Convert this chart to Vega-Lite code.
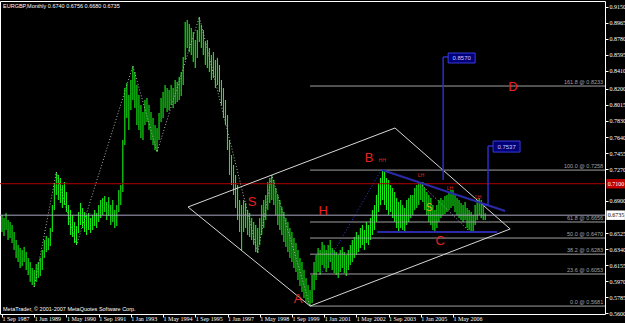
{
"$schema":"https://vega.github.io/schema/vega-lite/v6.json",
"width":605,"height":313,"autosize":{"type":"none"},
"padding":{"left":0,"top":1,"right":20,"bottom":9},
"background":"#000000",
"config":{"view":{"stroke":"#ffffff","strokeWidth":1},"font":"Liberation Sans","text":{"font":"Liberation Sans"},
 "axis":{"labelOverlap":false,"labelFlush":false,"labelSeparation":0,"grid":false,"domain":false,"tickColor":"#ffffff","labelColor":"#ffffff","labelFont":"Liberation Sans Narrow","labelFontSize":6,"tickSize":3,"labelPadding":1,"labelBaseline":"middle","labelAlign":"left","labelBound":false,"title":null}},
"resolve":{"scale":{"color":"independent","fill":"independent","strokeWidth":"independent"}},
"datasets":{
"bars":[
{"i":0,"h":0.6737,"l":0.6540},{"i":1,"h":0.6702,"l":0.6493},{"i":2,"h":0.6760,"l":0.6563},{"i":3,"h":0.6679,"l":0.6447},{"i":4,"h":0.6656,"l":0.6470},{"i":5,"h":0.6621,"l":0.6412},{"i":6,"h":0.6540,"l":0.6331},{"i":7,"h":0.6447,"l":0.6238},{"i":8,"h":0.6389,"l":0.6192},{"i":9,"h":0.6354,"l":0.6122},
{"i":10,"h":0.6331,"l":0.6145},{"i":11,"h":0.6366,"l":0.6192},{"i":12,"h":0.6308,"l":0.6099},{"i":13,"h":0.6238,"l":0.6041},{"i":14,"h":0.6192,"l":0.5960},{"i":15,"h":0.6122,"l":0.5925},{"i":16,"h":0.6099,"l":0.5902},{"i":17,"h":0.6169,"l":0.5960},{"i":18,"h":0.6192,"l":0.6006},{"i":19,"h":0.6238,"l":0.6029},
{"i":20,"h":0.6331,"l":0.6099},{"i":21,"h":0.6447,"l":0.6238},{"i":22,"h":0.6493,"l":0.6308},{"i":23,"h":0.6470,"l":0.6331},{"i":24,"h":0.6586,"l":0.6377},{"i":25,"h":0.6853,"l":0.6540},{"i":26,"h":0.7108,"l":0.6795},{"i":27,"h":0.7236,"l":0.6969},{"i":28,"h":0.7201,"l":0.6911},{"i":29,"h":0.7166,"l":0.6876},
{"i":30,"h":0.7085,"l":0.6818},{"i":31,"h":0.7120,"l":0.6853},{"i":32,"h":0.7004,"l":0.6772},{"i":33,"h":0.6853,"l":0.6621},{"i":34,"h":0.6795,"l":0.6505},{"i":35,"h":0.6737,"l":0.6482},{"i":36,"h":0.6656,"l":0.6412},{"i":37,"h":0.6609,"l":0.6389},{"i":38,"h":0.6772,"l":0.6528},{"i":39,"h":0.6876,"l":0.6621},
{"i":40,"h":0.6818,"l":0.6586},{"i":41,"h":0.6772,"l":0.6540},{"i":42,"h":0.6737,"l":0.6505},{"i":43,"h":0.6760,"l":0.6563},{"i":44,"h":0.6702,"l":0.6528},{"i":45,"h":0.6737,"l":0.6563},{"i":46,"h":0.6795,"l":0.6609},{"i":47,"h":0.6760,"l":0.6586},{"i":48,"h":0.6853,"l":0.6656},{"i":49,"h":0.6911,"l":0.6702},
{"i":50,"h":0.6934,"l":0.6737},{"i":51,"h":0.6957,"l":0.6772},{"i":52,"h":0.6888,"l":0.6679},{"i":53,"h":0.6946,"l":0.6725},{"i":54,"h":0.6853,"l":0.6621},{"i":55,"h":0.6911,"l":0.6656},{"i":56,"h":0.6795,"l":0.6586},{"i":57,"h":0.6853,"l":0.6609},{"i":58,"h":0.7027,"l":0.6772},{"i":59,"h":0.7085,"l":0.6853},
{"i":60,"h":0.7607,"l":0.7004},{"i":61,"h":0.8210,"l":0.7549},{"i":62,"h":0.8268,"l":0.7862},{"i":63,"h":0.8129,"l":0.7723},{"i":64,"h":0.8303,"l":0.7955},{"i":65,"h":0.8465,"l":0.8071},{"i":66,"h":0.8396,"l":0.7978},{"i":67,"h":0.8245,"l":0.7781},{"i":68,"h":0.8129,"l":0.7723},{"i":69,"h":0.8013,"l":0.7630},
{"i":70,"h":0.7932,"l":0.7607},{"i":71,"h":0.8071,"l":0.7781},{"i":72,"h":0.8094,"l":0.7816},{"i":73,"h":0.8013,"l":0.7723},{"i":74,"h":0.7932,"l":0.7607},{"i":75,"h":0.7862,"l":0.7549},{"i":76,"h":0.7781,"l":0.7491},{"i":77,"h":0.7746,"l":0.7468},{"i":78,"h":0.7920,"l":0.7607},{"i":79,"h":0.8094,"l":0.7816},
{"i":80,"h":0.8164,"l":0.7862},{"i":81,"h":0.8245,"l":0.7978},{"i":82,"h":0.8210,"l":0.7932},{"i":83,"h":0.8187,"l":0.7955},{"i":84,"h":0.8245,"l":0.8013},{"i":85,"h":0.8210,"l":0.7978},{"i":86,"h":0.8303,"l":0.8025},{"i":87,"h":0.8280,"l":0.8048},{"i":88,"h":0.8338,"l":0.8071},{"i":89,"h":0.8396,"l":0.8117},
{"i":90,"h":0.8570,"l":0.8245},{"i":91,"h":0.8976,"l":0.8535},{"i":92,"h":0.8999,"l":0.8674},{"i":93,"h":0.8953,"l":0.8628},{"i":94,"h":0.8906,"l":0.8593},{"i":95,"h":0.8860,"l":0.8512},{"i":96,"h":0.8767,"l":0.8442},{"i":97,"h":0.8883,"l":0.8558},{"i":98,"h":0.9034,"l":0.8744},{"i":99,"h":0.8941,"l":0.8674},
{"i":100,"h":0.8883,"l":0.8593},{"i":101,"h":0.8744,"l":0.8477},{"i":102,"h":0.8767,"l":0.8442},{"i":103,"h":0.8674,"l":0.8396},{"i":104,"h":0.8593,"l":0.8303},{"i":105,"h":0.8628,"l":0.8326},{"i":106,"h":0.8535,"l":0.8210},{"i":107,"h":0.8558,"l":0.8245},{"i":108,"h":0.8477,"l":0.8164},{"i":109,"h":0.8303,"l":0.8013},
{"i":110,"h":0.8210,"l":0.7862},{"i":111,"h":0.8071,"l":0.7781},{"i":112,"h":0.7897,"l":0.7491},{"i":113,"h":0.7607,"l":0.7201},{"i":114,"h":0.7433,"l":0.7085},{"i":115,"h":0.7317,"l":0.6969},{"i":116,"h":0.7201,"l":0.6818},{"i":117,"h":0.7085,"l":0.6679},{"i":118,"h":0.6911,"l":0.6540},{"i":119,"h":0.6853,"l":0.6331},
{"i":120,"h":0.6911,"l":0.6540},{"i":121,"h":0.6876,"l":0.6586},{"i":122,"h":0.6795,"l":0.6505},{"i":123,"h":0.6760,"l":0.6482},{"i":124,"h":0.6702,"l":0.6447},{"i":125,"h":0.6656,"l":0.6389},{"i":126,"h":0.6621,"l":0.6308},{"i":127,"h":0.6586,"l":0.6296},{"i":128,"h":0.6702,"l":0.6389},{"i":129,"h":0.6853,"l":0.6505},
{"i":130,"h":0.6911,"l":0.6586},{"i":131,"h":0.6969,"l":0.6679},{"i":132,"h":0.7120,"l":0.6795},{"i":133,"h":0.7166,"l":0.6876},{"i":134,"h":0.7201,"l":0.6911},{"i":135,"h":0.7143,"l":0.6853},{"i":136,"h":0.7050,"l":0.6737},{"i":137,"h":0.6969,"l":0.6621},{"i":138,"h":0.6911,"l":0.6563},{"i":139,"h":0.6830,"l":0.6505},
{"i":140,"h":0.6772,"l":0.6424},{"i":141,"h":0.6702,"l":0.6366},{"i":142,"h":0.6656,"l":0.6308},{"i":143,"h":0.6586,"l":0.6238},{"i":144,"h":0.6540,"l":0.6192},{"i":145,"h":0.6470,"l":0.6122},{"i":146,"h":0.6412,"l":0.6076},{"i":147,"h":0.6331,"l":0.5983},{"i":148,"h":0.6238,"l":0.5913},{"i":149,"h":0.6192,"l":0.5844},
{"i":150,"h":0.6099,"l":0.5774},{"i":151,"h":0.6006,"l":0.5728},{"i":152,"h":0.5925,"l":0.5705},{"i":153,"h":0.5867,"l":0.5681},{"i":154,"h":0.6041,"l":0.5716},{"i":155,"h":0.6192,"l":0.5867},{"i":156,"h":0.6273,"l":0.5983},{"i":157,"h":0.6354,"l":0.6076},{"i":158,"h":0.6331,"l":0.6041},{"i":159,"h":0.6424,"l":0.6157},
{"i":160,"h":0.6389,"l":0.6122},{"i":161,"h":0.6331,"l":0.6076},{"i":162,"h":0.6389,"l":0.6122},{"i":163,"h":0.6447,"l":0.6192},{"i":164,"h":0.6354,"l":0.6099},{"i":165,"h":0.6331,"l":0.6064},{"i":166,"h":0.6308,"l":0.6041},{"i":167,"h":0.6273,"l":0.6006},{"i":168,"h":0.6331,"l":0.6076},{"i":169,"h":0.6366,"l":0.6122},
{"i":170,"h":0.6308,"l":0.6064},{"i":171,"h":0.6273,"l":0.6029},{"i":172,"h":0.6331,"l":0.6099},{"i":173,"h":0.6389,"l":0.6157},{"i":174,"h":0.6447,"l":0.6192},{"i":175,"h":0.6482,"l":0.6238},{"i":176,"h":0.6540,"l":0.6273},{"i":177,"h":0.6505,"l":0.6308},{"i":178,"h":0.6586,"l":0.6354},{"i":179,"h":0.6621,"l":0.6389},
{"i":180,"h":0.6563,"l":0.6331},{"i":181,"h":0.6656,"l":0.6412},{"i":182,"h":0.6621,"l":0.6389},{"i":183,"h":0.6702,"l":0.6447},{"i":184,"h":0.6795,"l":0.6505},{"i":185,"h":0.6853,"l":0.6563},{"i":186,"h":0.6969,"l":0.6656},{"i":187,"h":0.7108,"l":0.6772},{"i":188,"h":0.7166,"l":0.6853},{"i":189,"h":0.7259,"l":0.6911},
{"i":190,"h":0.7236,"l":0.6853},{"i":191,"h":0.7166,"l":0.6795},{"i":192,"h":0.7143,"l":0.6737},{"i":193,"h":0.7085,"l":0.6772},{"i":194,"h":0.7050,"l":0.6702},{"i":195,"h":0.7004,"l":0.6656},{"i":196,"h":0.6934,"l":0.6586},{"i":197,"h":0.6888,"l":0.6540},{"i":198,"h":0.6911,"l":0.6586},{"i":199,"h":0.6853,"l":0.6563},
{"i":200,"h":0.6818,"l":0.6540},{"i":201,"h":0.6911,"l":0.6621},{"i":202,"h":0.6934,"l":0.6656},{"i":203,"h":0.6969,"l":0.6702},{"i":204,"h":0.6969,"l":0.6737},{"i":205,"h":0.7050,"l":0.6795},{"i":206,"h":0.7085,"l":0.6818},{"i":207,"h":0.7108,"l":0.6853},{"i":208,"h":0.7120,"l":0.6911},{"i":209,"h":0.7120,"l":0.6888},
{"i":210,"h":0.7050,"l":0.6795},{"i":211,"h":0.7004,"l":0.6737},{"i":212,"h":0.6969,"l":0.6656},{"i":213,"h":0.6934,"l":0.6621},{"i":214,"h":0.6853,"l":0.6563},{"i":215,"h":0.6795,"l":0.6528},{"i":216,"h":0.6853,"l":0.6586},{"i":217,"h":0.6911,"l":0.6656},{"i":218,"h":0.6934,"l":0.6702},{"i":219,"h":0.6911,"l":0.6737},
{"i":220,"h":0.6957,"l":0.6749},{"i":221,"h":0.6969,"l":0.6772},{"i":222,"h":0.6992,"l":0.6795},{"i":223,"h":0.7027,"l":0.6818},{"i":224,"h":0.7027,"l":0.6841},{"i":225,"h":0.6969,"l":0.6772},{"i":226,"h":0.6934,"l":0.6737},{"i":227,"h":0.6911,"l":0.6702},{"i":228,"h":0.6876,"l":0.6679},{"i":229,"h":0.6853,"l":0.6656},
{"i":230,"h":0.6888,"l":0.6679},{"i":231,"h":0.6818,"l":0.6586},{"i":232,"h":0.6795,"l":0.6563},{"i":233,"h":0.6772,"l":0.6540},{"i":234,"h":0.6737,"l":0.6540},{"i":235,"h":0.6853,"l":0.6621},{"i":236,"h":0.6911,"l":0.6679},{"i":237,"h":0.6934,"l":0.6737},{"i":238,"h":0.6911,"l":0.6702},{"i":239,"h":0.6853,"l":0.6679},
{"i":240,"h":0.6756,"l":0.6680}
],
"fib":[{"p":0.5681,"label":"0.0 @ 0.5681"},{"p":0.6053,"label":"23.6 @ 0.6053"},{"p":0.6283,"label":"38.2 @ 0.6283"},{"p":0.6470,"label":"50.0 @ 0.6470"},{"p":0.6656,"label":"61.8 @ 0.6656"},{"p":0.7258,"label":"100.0 @ 0.7258"},{"p":0.8233,"label":"161.8 @ 0.8233"}],
"diamond":[{"k":0,"i":92.4,"p":0.6830},{"k":1,"i":195.2,"p":0.7746},{"k":2,"i":252.4,"p":0.6575},{"k":3,"i":153,"p":0.5681},{"k":4,"i":92.4,"p":0.6830}],
"zigzag":[{"k":0,"i":16,"p":0.5902},{"k":1,"i":27,"p":0.7236},{"k":2,"i":37,"p":0.6389},{"k":3,"i":65,"p":0.8465},{"k":4,"i":77,"p":0.7468},{"k":5,"i":98,"p":0.9034},{"k":6,"i":127,"p":0.6296},{"k":7,"i":134,"p":0.7201},{"k":8,"i":153,"p":0.5681}],
"trend":[
{"i1":188.8,"p1":0.7259,"i2":249.9,"p2":0.6783},
{"i1":186.3,"p1":0.6540,"i2":245.9,"p2":0.6540}],
"marker":[
{"i1":219.1,"p1":0.7143,"i2":219.1,"p2":0.8570},
{"i1":219.1,"p1":0.8570,"i2":221.6,"p2":0.8570},
{"i1":241.4,"p1":0.6853,"i2":241.4,"p2":0.7537},
{"i1":239.0,"p1":0.6853,"i2":241.4,"p2":0.6853},
{"i1":241.4,"p1":0.7537,"i2":243.9,"p2":0.7537}],
"bluedot":[{"i1":159,"p1":0.6076,"i2":188.3,"p2":0.7259}],
"whitedot":[{"i1":207.6,"p1":0.7108,"i2":232.5,"p2":0.6540}],
"boxes":[{"i1":221.6,"i2":235.0,"p1":0.8500,"p2":0.8616,"im":228.3,"pm":0.8558,"t":"0.8570"},{"i1":243.9,"i2":257.3,"p1":0.7467,"p2":0.7595,"im":250.6,"pm":0.7531,"t":"0.7537"}],
"big":[{"t":"A","i":147,"p":0.5763},{"t":"B","i":182.3,"p":0.7398},{"t":"S","i":124.2,"p":0.6888},{"t":"H","i":159.5,"p":0.6783},{"t":"C","i":217.6,"p":0.6435},{"t":"D","i":253.8,"p":0.8222}],
"small":[{"t":"HH","i":188.8,"p":0.7375},{"t":"LH","i":208.1,"p":0.7201},{"t":"LH","i":222.5,"p":0.7050},{"t":"LH","i":236.5,"p":0.6945}],
"redline":[{"p":0.7100,"p1":0.7045,"p2":0.7155,"t":"0.7100"}],
"bid":[{"p":0.6735,"p1":0.6680,"p2":0.6790,"t":"0.6735"}]
},
"layer":[
{"data":{"name":"bars"},"mark":{"type":"rule","color":"#14f014","strokeWidth":1.1},
 "encoding":{
  "x":{"field":"i","type":"quantitative","title":null,"scale":{"domain":[-1,299.5],"nice":false,"zero":false},
   "axis":{"values":[0,16,32,48,64,80,96,112,128,144,160,176,192,208,224],"tickCount":40,"labelExpr":"['1 Sep 1987','1 Jun 1989','1 May 1990','1 Sep 1991','1 Jan 1993','1 May 1994','1 Sep 1995','1 Jan 1997','1 May 1998','1 Sep 1999','1 Jan 2001','1 May 2002','1 Sep 2003','1 Jan 2005','1 May 2006'][round(datum.value/16)]","labelDx":2}},
  "y":{"field":"l","type":"quantitative","title":null,"scale":{"domain":[0.5589,0.9219],"nice":false,"zero":false},
   "axis":{"orient":"right","tickCount":40,"values":[0.56,0.5785,0.597,0.6155,0.634,0.6525,0.69,0.727,0.7455,0.764,0.783,0.8015,0.82,0.841,0.8595,0.878,0.8965,0.915],"format":".4f"}},
  "y2":{"field":"h"}}},
{"data":{"name":"fib"},"mark":{"type":"rule","color":"#a0a0a0","strokeWidth":1},
 "encoding":{"x":{"datum":153,"type":"quantitative"},"x2":{"datum":299.5},
  "y":{"field":"p","type":"quantitative"}}},
{"data":{"name":"fib"},"mark":{"type":"text","color":"#a0a0a0","fontSize":5.5,"align":"right","baseline":"bottom","dy":-1},
 "encoding":{"x":{"datum":298.6,"type":"quantitative"},
  "y":{"field":"p","type":"quantitative"},"text":{"field":"label"}}},
{"data":{"name":"redline"},"mark":{"type":"rule","strokeWidth":1,"color":"#b00000"},
 "encoding":{"y":{"field":"p","type":"quantitative"}}},
{"data":{"name":"bid"},"mark":{"type":"rule","strokeWidth":1,"color":"#a8a8c0"},
 "encoding":{"y":{"field":"p","type":"quantitative"}}},
{"data":{"name":"diamond"},"mark":{"type":"line","color":"#d8d8d8","strokeWidth":1},
 "encoding":{"x":{"field":"i","type":"quantitative"},
  "y":{"field":"p","type":"quantitative"},"order":{"field":"k"}}},
{"data":{"name":"zigzag"},"mark":{"type":"line","color":"#b0b0b0","strokeWidth":1,"strokeDash":[1,2]},
 "encoding":{"x":{"field":"i","type":"quantitative"},
  "y":{"field":"p","type":"quantitative"},"order":{"field":"k"}}},
{"data":{"name":"bluedot"},"mark":{"type":"rule","strokeWidth":1,"strokeDash":[1,2],"color":"#3a3ad8"},
 "encoding":{"x":{"field":"i1","type":"quantitative"},"x2":{"field":"i2"},
  "y":{"field":"p1","type":"quantitative"},"y2":{"field":"p2"}}},
{"data":{"name":"whitedot"},"mark":{"type":"rule","strokeWidth":1,"strokeDash":[1,2],"color":"#b0b0b0"},
 "encoding":{"x":{"field":"i1","type":"quantitative"},"x2":{"field":"i2"},
  "y":{"field":"p1","type":"quantitative"},"y2":{"field":"p2"}}},
{"data":{"name":"trend"},"mark":{"type":"rule","strokeWidth":2,"color":"#2a2aa8"},
 "encoding":{"x":{"field":"i1","type":"quantitative"},"x2":{"field":"i2"},
  "y":{"field":"p1","type":"quantitative"},"y2":{"field":"p2"}}},
{"data":{"name":"marker"},"mark":{"type":"rule","strokeWidth":1.5,"color":"#2c2cc8"},
 "encoding":{"x":{"field":"i1","type":"quantitative"},"x2":{"field":"i2"},
  "y":{"field":"p1","type":"quantitative"},"y2":{"field":"p2"}}},
{"data":{"name":"boxes"},"mark":{"type":"rect","fill":"#000078","stroke":"#3a3ad8","strokeWidth":1},
 "encoding":{"x":{"field":"i1","type":"quantitative"},"x2":{"field":"i2"},
  "y":{"field":"p1","type":"quantitative"},"y2":{"field":"p2"}}},
{"data":{"name":"boxes"},"mark":{"type":"text","color":"#c8c8ff","fontSize":6,"align":"center","baseline":"middle"},
 "encoding":{"x":{"field":"im","type":"quantitative"},
  "y":{"field":"pm","type":"quantitative"},"text":{"field":"t"}}},
{"data":{"name":"big"},"mark":{"type":"text","color":"#e82020","fontSize":13,"align":"center","baseline":"middle"},
 "encoding":{"x":{"field":"i","type":"quantitative"},
  "y":{"field":"p","type":"quantitative"},"text":{"field":"t"}}},
{"data":{"name":"small"},"mark":{"type":"text","color":"#e82020","fontSize":5,"align":"center","baseline":"middle"},
 "encoding":{"x":{"field":"i","type":"quantitative"},
  "y":{"field":"p","type":"quantitative"},"text":{"field":"t"}}},
{"data":{"values":[{"t":"S","i":212.1,"p":0.6818}]},"mark":{"type":"text","color":"#e8a020","fontSize":10,"align":"center","baseline":"middle"},
 "encoding":{"x":{"field":"i","type":"quantitative"},
  "y":{"field":"p","type":"quantitative"},"text":{"field":"t"}}},
{"data":{"name":"redline"},"mark":{"type":"rect","clip":false,"fill":"#c00000"},
 "encoding":{"x":{"datum":300.2,"type":"quantitative"},"x2":{"datum":309.4},
  "y":{"field":"p1","type":"quantitative"},"y2":{"field":"p2"}}},
{"data":{"name":"redline"},"mark":{"type":"text","clip":false,"fontSize":6,"font":"Liberation Sans Narrow","align":"left","baseline":"middle","color":"#ffffff"},
 "encoding":{"x":{"datum":300.9,"type":"quantitative"},
  "y":{"field":"p","type":"quantitative"},"text":{"field":"t"}}},
{"data":{"name":"bid"},"mark":{"type":"rect","clip":false,"fill":"#ffffff"},
 "encoding":{"x":{"datum":300.2,"type":"quantitative"},"x2":{"datum":309.4},
  "y":{"field":"p1","type":"quantitative"},"y2":{"field":"p2"}}},
{"data":{"name":"bid"},"mark":{"type":"text","clip":false,"fontSize":6,"font":"Liberation Sans Narrow","align":"left","baseline":"middle","color":"#000000"},
 "encoding":{"x":{"datum":300.9,"type":"quantitative"},
  "y":{"field":"p","type":"quantitative"},"text":{"field":"t"}}},
{"data":{"values":[{"t":"EURGBP,Monthly  0.6740 0.6756 0.6680 0.6735","i":0.5,"p":0.9162},{"t":"MetaTrader, © 2001-2007 MetaQuotes Software Corp.","i":0.5,"p":0.5647}]},
 "mark":{"type":"text","color":"#ffffff","fontSize":5.5,"align":"left","baseline":"middle"},
 "encoding":{"x":{"field":"i","type":"quantitative"},
  "y":{"field":"p","type":"quantitative"},"text":{"field":"t"}}}
]
}
